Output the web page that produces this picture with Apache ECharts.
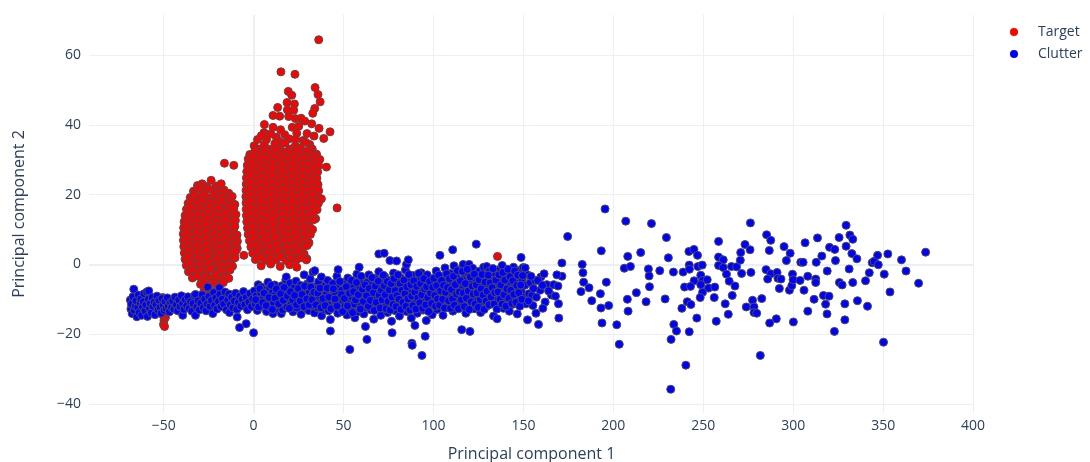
<!DOCTYPE html>
<html>
<head>
<meta charset="utf-8">
<script src="https://cdn.jsdelivr.net/npm/echarts@6/dist/echarts.min.js"></script>
<style>
  html, body { margin: 0; padding: 0; background: #fff; }
  #chart { width: 1090px; height: 462px; }
</style>
</head>
<body>
<div id="chart"></div>
<script>
// Axis ticks
const xTicks = [-50, 0, 50, 100, 150, 200, 250, 300, 350, 400];
const yTicks = [-40, -20, 0, 20, 40, 60];

// Target: left lobe (PC1, PC2)
const targetLeft = [
  [-31.2,22.6],[-28.6,23.1],[-26.0,22.3],[-23.6,24.1],[-21.0,22.5],[-18.0,23.1],
  [-33.4,21.0],[-30.6,21.8],[-27.9,20.9],[-25.1,21.6],[-22.3,21.2],[-19.8,20.7],[-16.4,21.3],[-13.8,20.4],
  [-35.2,19.2],[-32.8,19.9],[-30.1,19.4],[-27.4,20.0],[-24.8,19.1],[-22.0,19.8],[-19.3,19.3],[-16.7,19.6],[-14.1,18.9],[-11.9,19.5],
  [-36.4,17.5],[-33.9,18.2],[-31.2,17.6],[-28.6,18.3],[-25.9,17.4],[-23.3,18.0],[-20.6,17.7],[-18.0,18.1],[-15.3,17.3],[-12.7,17.9],[-10.4,17.2],
  [-37.3,15.8],[-34.7,16.4],[-32.2,15.6],[-29.5,16.3],[-26.9,15.9],[-24.2,16.5],[-21.6,15.7],[-18.9,16.2],[-16.3,15.5],[-13.6,16.4],[-11.0,15.9],
  [-38.1,14.0],[-35.6,14.7],[-33.0,13.9],[-30.4,14.5],[-27.7,14.1],[-25.1,14.8],[-22.5,13.8],[-19.8,14.4],[-17.2,14.0],[-14.5,14.6],[-11.9,13.9],[-9.8,14.3],
  [-38.6,12.2],[-36.2,12.9],[-33.6,12.1],[-31.0,12.7],[-28.3,12.3],[-25.7,13.0],[-23.0,12.0],[-20.4,12.6],[-17.8,12.2],[-15.1,12.8],[-12.5,12.1],[-10.1,12.6],
  [-38.9,10.5],[-36.6,11.1],[-34.0,10.3],[-31.5,10.9],[-28.8,10.4],[-26.2,11.2],[-23.6,10.2],[-20.9,10.8],[-18.3,10.4],[-15.6,11.0],[-13.0,10.3],[-10.4,10.9],
  [-39.1,8.7],[-36.9,9.3],[-34.4,8.5],[-31.8,9.1],[-29.2,8.6],[-26.6,9.4],[-24.0,8.4],[-21.3,9.0],[-18.7,8.6],[-16.1,9.2],[-13.4,8.5],[-10.8,9.1],[-9.2,8.4],
  [-39.0,6.9],[-36.7,7.5],[-34.1,6.7],[-31.6,7.3],[-29.0,6.8],[-26.4,7.6],[-23.8,6.6],[-21.1,7.2],[-18.5,6.8],[-15.9,7.4],[-13.2,6.7],[-10.6,7.3],[-9.0,6.6],
  [-38.8,5.1],[-36.4,5.7],[-33.9,4.9],[-31.3,5.5],[-28.7,5.0],[-26.1,5.8],[-23.5,4.8],[-20.8,5.4],[-18.2,5.0],[-15.6,5.6],[-12.9,4.9],[-10.3,5.5],[-9.1,4.6],
  [-38.5,3.3],[-36.1,3.9],[-33.6,3.1],[-31.0,3.7],[-28.4,3.2],[-25.8,4.0],[-23.2,3.0],[-20.5,3.6],[-17.9,3.2],[-15.3,3.8],[-12.6,3.1],[-10.0,3.7],
  [-38.1,1.5],[-35.7,2.1],[-33.2,1.3],[-30.6,1.9],[-28.0,1.4],[-25.4,2.2],[-22.8,1.2],[-20.1,1.8],[-17.5,1.4],[-14.9,2.0],[-12.2,1.3],[-10.3,1.9],
  [-37.4,-0.3],[-35.0,0.3],[-32.5,-0.5],[-29.9,0.1],[-27.3,-0.4],[-24.7,0.4],[-22.1,-0.6],[-19.4,0.0],[-16.8,-0.4],[-14.2,0.2],[-11.7,-0.5],
  [-36.2,-2.1],[-33.8,-1.5],[-31.3,-2.3],[-28.7,-1.7],[-26.1,-2.2],[-23.5,-1.4],[-20.9,-2.4],[-18.2,-1.8],[-15.6,-2.2],[-13.1,-1.6],
  [-34.0,-3.9],[-31.5,-3.3],[-29.0,-4.1],[-26.4,-3.5],[-23.8,-4.0],[-21.2,-3.2],[-18.6,-4.2],[-16.0,-3.6],[-13.8,-4.0],
  [-29.5,-5.7],[-27.0,-5.1],[-24.4,-5.9],[-21.8,-5.3],[-19.2,-5.8],[-16.8,-5.2],
  [-27.5,-7.5],[-24.9,-7.0],[-22.3,-7.8],[-19.7,-7.2],
  [-16.2,29.0],[-11.0,28.4],[-5.4,2.6]
];

// Target: right lobe
const targetRight = [
  [36.2,64.4],[15.2,55.2],[23.0,54.5],[34.2,50.7],[35.8,48.7],[37.0,46.6],[34.0,44.7],[32.9,43.3],
  [19.3,49.6],[21.2,48.5],[18.6,46.4],[22.7,46.0],[13.4,45.0],[18.8,44.3],[22.3,44.2],[10.8,42.7],
  [14.5,42.5],[19.5,42.4],[23.2,41.8],[26.4,41.9],[28.4,41.1],[32.3,40.3],[36.4,39.0],[42.5,38.0],
  [39.0,36.1],[6.0,40.1],[10.8,39.3],[5.8,37.8],[2.2,35.8],[7.2,35.8],[12.6,36.5],[17.3,37.2],
  [21.5,39.3],[25.1,39.6],[29.7,37.5],[31.2,34.4],[27.5,35.5],[9.6,37.4],[15.0,38.6],[19.8,36.0],
  [24.0,37.6],[4.3,36.9],[14.2,35.2],[23.3,35.9],[33.6,36.8],
  [0.3,34.0],[3.2,33.1],[6.0,34.4],[8.9,33.0],[11.8,34.6],[14.6,33.2],[17.5,34.8],[20.3,33.1],[23.2,34.0],[26.1,33.4],[29.0,35.0],[32.6,33.1],
  [-2.1,31.5],[0.8,32.6],[3.6,31.8],[6.5,32.4],[9.4,31.9],[12.2,32.7],[15.1,31.7],[18.0,32.3],[20.8,31.9],[23.7,32.5],[26.6,31.8],[29.4,32.4],[32.3,31.9],[35.0,31.6],
  [-3.0,30.2],[-0.2,30.8],[2.7,30.0],[5.5,30.6],[8.4,30.1],[11.3,30.9],[14.1,29.9],[17.0,30.5],[19.9,30.1],[22.7,30.7],[25.6,30.0],[28.5,30.6],[31.3,30.2],[34.2,30.8],[36.8,30.1],
  [-3.5,28.4],[-0.7,29.0],[2.2,28.2],[5.0,28.8],[7.9,28.3],[10.8,29.1],[13.6,28.1],[16.5,28.7],[19.4,28.3],[22.2,28.9],[25.1,28.2],[28.0,28.8],[30.8,28.4],[33.7,29.0],[36.2,28.3],[40.5,27.9],
  [-3.8,26.6],[-1.0,27.2],[1.9,26.4],[4.7,27.0],[7.6,26.5],[10.5,27.3],[13.3,26.3],[16.2,26.9],[19.1,26.5],[21.9,27.1],[24.8,26.4],[27.7,27.0],[30.5,26.6],[33.4,27.2],[35.6,26.5],
  [-4.0,24.8],[-1.2,25.4],[1.7,24.6],[4.5,25.2],[7.4,24.7],[10.3,25.5],[13.1,24.5],[16.0,25.1],[18.9,24.7],[21.7,25.3],[24.6,24.6],[27.5,25.2],[30.3,24.8],[33.2,25.4],[35.2,24.7],
  [-4.1,23.0],[-1.3,23.6],[1.6,22.8],[4.4,23.4],[7.3,22.9],[10.2,23.7],[13.0,22.7],[15.9,23.3],[18.8,22.9],[21.6,23.5],[24.5,22.8],[27.4,23.4],[30.2,23.0],[33.1,23.6],[35.8,22.9],
  [-4.2,21.2],[-1.4,21.8],[1.5,21.0],[4.3,21.6],[7.2,21.1],[10.1,21.9],[12.9,20.9],[15.8,21.5],[18.7,21.1],[21.5,21.7],[24.4,21.0],[27.3,21.6],[30.1,21.2],[33.0,21.8],[36.2,21.1],
  [-4.3,19.4],[-1.5,20.0],[1.4,19.2],[4.2,19.8],[7.1,19.3],[10.0,20.1],[12.8,19.1],[15.7,19.7],[18.6,19.3],[21.4,19.9],[24.3,19.2],[27.2,19.8],[30.0,19.4],[32.9,20.0],[35.9,19.3],[37.7,18.8],
  [-4.2,17.6],[-1.4,18.2],[1.5,17.4],[4.3,18.0],[7.2,17.5],[10.1,18.3],[12.9,17.3],[15.8,17.9],[18.7,17.5],[21.5,18.1],[24.4,17.4],[27.3,18.0],[30.1,17.6],[33.0,18.2],[36.0,17.5],
  [-4.1,15.8],[-1.3,16.4],[1.6,15.6],[4.4,16.2],[7.3,15.7],[10.2,16.5],[13.0,15.5],[15.9,16.1],[18.8,15.7],[21.6,16.3],[24.5,15.6],[27.4,16.2],[30.2,15.8],[33.1,16.4],[35.3,15.7],[46.4,16.2],
  [-4.0,14.0],[-1.2,14.6],[1.7,13.8],[4.5,14.4],[7.4,13.9],[10.3,14.7],[13.1,13.7],[16.0,14.3],[18.9,13.9],[21.7,14.5],[24.6,13.8],[27.5,14.4],[30.3,14.0],[33.2,14.6],[34.5,13.1],
  [-3.8,12.2],[-1.0,12.8],[1.9,12.0],[4.7,12.6],[7.6,12.1],[10.5,12.9],[13.3,11.9],[16.2,12.5],[19.1,12.1],[21.9,12.7],[24.8,12.0],[27.7,12.6],[30.5,12.2],[33.4,12.8],
  [-3.4,10.4],[-0.6,11.0],[2.3,10.2],[5.1,10.8],[8.0,10.3],[10.9,11.1],[13.7,10.1],[16.6,10.7],[19.5,10.3],[22.3,10.9],[25.2,10.2],[28.1,10.8],[31.2,10.7],[32.8,10.0],
  [-3.0,8.6],[-0.2,9.2],[2.7,8.4],[5.5,9.0],[8.4,8.5],[11.3,9.3],[14.1,8.3],[17.0,8.9],[19.9,8.5],[22.7,9.1],[25.6,8.4],[28.5,9.0],[31.6,8.6],
  [-2.3,6.8],[0.5,7.4],[3.4,6.6],[6.2,7.2],[9.1,6.7],[12.0,7.5],[14.8,6.5],[17.7,7.1],[20.6,6.7],[23.4,7.3],[26.3,6.6],[29.2,7.2],[30.8,6.2],
  [-1.5,5.0],[1.3,5.6],[4.2,4.8],[7.0,5.4],[9.9,4.9],[12.8,5.7],[15.6,4.7],[18.5,5.3],[21.4,4.9],[24.2,5.5],[27.1,4.8],[29.8,5.4],
  [-0.5,3.2],[2.3,3.8],[5.2,3.0],[8.0,3.6],[10.9,3.1],[13.8,3.9],[16.6,2.9],[19.5,3.5],[22.4,3.1],[25.2,3.7],[28.1,3.0],[29.6,1.6],
  [1.0,1.4],[3.8,2.0],[6.7,1.2],[9.5,1.8],[12.4,1.3],[15.3,2.1],[18.1,1.1],[21.0,1.7],[23.9,1.3],[26.7,1.9],[29.3,1.3],
  [4.2,-0.4],[9.5,0.1],[14.8,-0.6],[20.1,-0.1],[24.0,-0.8]
];

// Target: points near the clutter band
const targetMisc = [
  [-50.5,-9.5],[-50.0,-11.2],[-49.6,-13.0],[-51.0,-12.0],[-50.3,-14.6],[-49.0,-15.2],
  [-49.8,-16.0],[-50.1,-17.2],[-49.5,-17.8],[40.0,-5.0],[135.6,2.3]
];

// Clutter: dense band
const clutterBand = [
  [-68.5,-10.2],[-68.2,-12.8],[-67.9,-11.4],[-67.5,-14.1],[-67.1,-9.3],[-66.6,-7.1],[-66.3,-13.2],[-65.8,-11.9],
  [-65.4,-10.4],[-64.9,-15.0],[-64.5,-12.4],[-64.0,-8.8],[-63.6,-13.8],[-63.1,-11.0],[-62.7,-9.9],[-62.2,-14.6],
  [-61.8,-12.1],[-61.3,-10.7],[-60.9,-8.4],[-60.4,-13.3],[-59.9,-11.6],[-59.4,-7.9],[-59.0,-14.9],[-58.5,-10.0],
  [-58.3,-7.6],[-57.9,-12.7],[-57.4,-11.2],[-56.9,-13.9],[-56.4,-9.5],[-55.9,-12.0],[-55.3,-10.8],[-54.8,-14.4],
  [-54.2,-11.5],[-53.7,-9.1],[-53.1,-13.0],[-52.6,-10.3],[-52.0,-12.3],[-51.4,-14.0],[-50.9,-9.8],[-50.3,-11.7],
  [-49.7,-13.2],[-49.2,-10.6],[-48.6,-12.6],[-48.0,-9.6],[-47.4,-11.9],[-46.8,-13.6],[-46.2,-10.9],[-45.6,-12.4],
  [-45.0,-10.5],[-44.3,-12.8],[-43.7,-9.4],[-43.0,-11.6],[-42.2,-13.3],[-41.6,-10.2],[-40.9,-12.1],[-40.1,-9.0],
  [-39.4,-11.3],[-39.4,-14.6],[-38.7,-12.9],[-38.0,-10.1],[-37.2,-11.8],[-36.5,-9.3],[-35.8,-12.6],[-35.0,-10.7],
  [-34.3,-13.4],[-33.6,-11.2],[-32.9,-9.0],[-32.3,-14.6],[-32.3,-8.6],[-31.6,-12.2],[-30.8,-10.4],[-30.1,-13.0],
  [-29.4,-11.1],[-28.6,-8.7],[-27.9,-12.4],[-27.2,-10.0],[-26.4,-13.3],[-25.7,-11.4],[-25.5,-6.5],[-24.9,-9.2],
  [-24.2,-12.0],[-23.5,-10.3],[-22.7,-14.1],[-22.2,-8.1],[-21.7,-11.7],[-21.0,-9.6],[-20.3,-12.8],[-19.5,-10.6],
  [-19.0,-6.7],[-18.8,-8.6],[-18.1,-12.1],[-17.3,-9.9],[-16.6,-11.4],[-15.9,-7.9],[-15.1,-13.0],[-14.4,-10.2],
  [-13.7,-8.5],[-13.4,-13.8],[-12.9,-11.6],[-12.2,-9.4],[-11.5,-12.4],[-10.7,-10.5],[-10.0,-8.3],[-9.3,-12.9],
  [-9.1,-15.1],[-8.5,-10.9],[-7.8,-18.1],[-7.8,-9.1],[-7.1,-12.0],[-6.3,-10.0],[-5.6,-7.8],[-4.9,-11.5],
  [-4.1,-17.0],[-4.1,-9.5],[-3.4,-13.0],[-2.7,-10.8],[-2.0,-8.4],[-1.2,-12.1],[-0.5,-9.9],[0.0,-19.6],
  [0.4,-7.6],[0.9,-11.3],[1.5,-9.0],[2.1,-13.2],[2.6,-5.8],[3.2,-10.4],[3.8,-8.1],[4.3,-6.5],
  [4.9,-12.0],[5.5,-9.6],[6.0,-11.4],[6.6,-7.3],[7.2,-13.5],[7.7,-8.9],[8.0,-5.1],[8.3,-10.7],
  [8.9,-6.8],[9.4,-12.3],[10.0,-9.2],[10.6,-7.9],[10.8,-14.1],[11.1,-11.0],[11.7,-5.9],[12.3,-8.5],
  [12.8,-12.8],[13.4,-10.1],[14.0,-7.2],[14.5,-11.8],[15.1,-9.5],[15.4,-14.1],[15.7,-6.1],[16.2,-13.0],
  [16.8,-8.0],[17.4,-10.8],[17.9,-4.4],[18.2,-3.6],[18.5,-12.2],[19.1,-7.0],[19.6,-9.9],[20.2,-5.4],
  [20.8,-11.5],[21.3,-8.6],[21.9,-13.6],[22.5,-6.7],[23.0,-10.3],[23.6,-4.8],[24.2,-12.5],[24.7,-8.1],
  [25.3,-9.7],[25.9,-6.0],[26.4,-14.3],[27.0,-11.2],[27.6,-7.5],[28.1,-3.0],[28.7,-9.1],[29.3,-12.7],
  [29.8,-5.6],[30.4,-10.6],[30.6,-13.2],[31.0,-7.9],[31.5,-4.2],[32.1,-11.9],[32.7,-8.8],[33.0,-2.2],
  [33.2,-6.4],[33.8,-13.9],[34.0,-1.8],[34.4,-10.0],[34.9,-7.1],[35.5,-12.4],[36.1,-5.0],[36.6,-9.4],
  [37.2,-11.0],[37.7,-3.6],[37.8,-14.7],[38.3,-7.7],[38.9,-12.9],[39.5,-6.2],[40.0,-10.2],[40.6,-8.4],
  [41.2,-4.6],[41.7,-13.3],[42.3,-11.5],[42.7,-15.8],[42.7,-19.1],[42.9,-7.0],[43.4,-9.6],[44.0,-5.5],
  [44.6,-12.1],[45.1,-8.0],[45.7,-10.9],[46.3,-3.4],[46.8,-14.0],[47.0,-1.5],[47.4,-6.6],[48.0,-9.3],
  [48.5,-12.6],[49.1,-7.4],[49.7,-10.4],
  [50.2,-5.2],[50.8,-12.0],[51.3,-8.7],[51.9,-14.5],[52.4,-3.9],[53.0,-10.5],[53.5,-24.4],[53.6,-7.1],
  [54.1,-12.9],[54.7,-9.4],[55.2,-5.9],[55.8,-11.4],[56.3,-15.3],[56.9,-8.0],[57.4,-2.8],[58.0,-13.6],
  [58.5,-10.1],[58.7,-0.8],[59.1,-6.5],[59.6,-11.9],[60.2,-4.5],[60.7,-9.0],[61.3,-14.2],[61.8,-7.4],
  [62.2,-17.8],[62.4,-12.4],[63.0,-21.5],[63.0,-5.2],[63.5,-10.6],[64.1,-3.0],[64.6,-8.5],[65.2,-13.0],
  [65.7,-6.0],[66.3,-11.1],[66.8,-15.7],[67.4,-4.0],[67.9,-9.6],[68.5,-12.6],[69.0,-7.2],[69.6,3.0],
  [69.6,-2.1],[70.1,-10.3],[70.7,-14.6],[71.2,-5.5],[71.8,-8.3],[72.3,-12.0],[72.6,3.2],[72.9,-3.5],
  [73.4,-10.9],[74.0,-6.8],[74.5,-13.8],[75.1,-9.1],[75.6,-4.6],[75.8,1.1],[76.2,-11.6],[76.7,-16.3],
  [77.0,-19.6],[77.3,-7.6],[77.8,-2.5],[78.4,-13.2],[78.9,-9.9],[79.5,1.0],[79.5,-5.8],[80.0,-11.0],
  [80.6,-7.0],[81.1,-14.8],[81.7,-3.8],[82.2,-8.9],[82.8,-12.3],[83.3,-6.2],[83.9,-10.4],[84.4,-1.6],
  [85.0,0.0],[85.0,-13.5],[85.5,-8.1],[86.0,1.3],[86.1,-4.9],[86.6,-11.5],[87.2,-7.3],[87.7,-15.4],
  [88.0,-22.6],[88.2,-23.2],[88.3,-9.5],[88.8,-3.2],[89.4,-12.7],[89.7,-17.5],[89.9,-6.6],[90.5,-10.2],
  [91.0,-14.0],[91.6,-4.3],[92.1,-8.6],[92.7,-11.8],[93.2,-2.4],[93.6,-26.1],[93.8,-7.9],[94.3,-13.1],
  [94.9,-5.7],[95.4,-20.6],[95.4,-10.0],[96.0,-16.1],[96.5,-3.0],[97.1,-8.2],[97.6,-12.1],[98.2,-6.0],
  [98.7,-9.7],[99.3,-14.4],[99.8,-4.4],
  [100.4,-10.8],[100.9,-7.1],[101.5,-1.9],[102.0,-12.9],[102.6,-5.3],[103.1,-9.2],[103.6,2.6],[103.7,-3.4],
  [104.2,-11.4],[104.8,-6.8],[105.3,-14.6],[105.9,-8.5],[106.4,-1.0],[107.0,-10.1],[107.5,-4.7],[108.1,-12.3],
  [108.6,-7.6],[109.2,-2.6],[109.7,-9.5],[110.3,-5.8],[110.7,4.2],[110.8,-13.4],[111.4,-0.4],[111.9,-8.0],
  [112.5,-11.0],[113.0,-3.9],[113.6,-6.4],[114.1,-9.9],[114.7,-1.5],[115.2,-12.0],[115.7,-18.7],[115.8,-7.2],
  [116.3,-4.4],[116.5,0.0],[116.9,-10.5],[117.4,-2.3],[118.0,-14.0],[118.5,-6.0],[119.1,-8.8],[119.6,-3.1],
  [119.8,0.0],[120.2,-11.6],[120.3,-19.2],[120.7,-5.1],[121.3,-9.0],[121.8,-1.1],[122.4,-7.4],[122.9,-12.7],
  [123.5,-4.0],[123.8,5.8],[124.0,-10.0],[124.6,-6.6],[125.1,-2.0],[125.7,-8.4],[126.2,-13.8],[126.8,-5.5],
  [127.3,-10.9],[127.9,-0.8],[128.4,-7.6],[129.0,-3.6],[129.5,-12.0],[129.6,-0.6],[130.1,-9.1],[130.6,-5.9],
  [131.2,-1.9],[131.7,-8.0],[132.3,-10.6],[132.8,-4.2],[133.4,-14.8],[133.9,-6.9],[134.5,-2.8],[135.0,-9.6],
  [135.4,-15.6],[135.6,-5.0],[136.1,-11.7],[136.7,-7.4],[137.2,-1.3],[137.8,-3.9],[138.2,-0.3],[138.3,-8.5],
  [138.9,-12.6],[139.4,-6.0],[140.0,-2.7],[140.5,-10.0],[141.1,-4.8],[141.6,-7.7],[142.2,-13.4],[142.7,-5.6],
  [143.3,-9.2],[143.8,-2.1],[144.4,-11.4],[144.5,-0.8],[144.9,-6.6],[145.5,-3.6],[146.0,-8.9],[146.6,-14.2],
  [147.1,-5.4],[147.7,-10.6],[148.2,-1.7],[148.7,2.0],[148.8,-7.8],[149.3,-4.3],[149.9,-0.9],[149.9,-9.5],
  [150.8,-6.0],[151.5,-11.3],[152.3,-15.9],[152.3,-3.0],[153.0,-8.4],[153.8,-5.2],[154.7,-8.9],[155.3,-11.8],
  [156.5,-4.6],[158.4,-17.2],[159.3,-7.4],[159.7,-3.6],[162.1,-10.8],[163.0,-5.8],[165.6,-8.8],[166.8,-5.8],
  [169.2,-6.2],[169.5,-11.3],[169.7,-15.4],[171.4,0.4],[171.4,-3.4],[174.6,8.0]
];

// Clutter: additional points in the core of the band
const clutterCore = [
  [1.2,-10.1],[2.8,-12.2],[3.5,-7.0],[5.1,-10.9],[5.8,-8.2],[7.0,-11.8],[8.6,-9.5],[9.8,-6.0],
  [10.4,-12.9],[11.9,-9.7],[12.6,-7.0],[13.9,-11.3],[15.0,-8.4],[16.5,-10.3],[17.0,-6.6],[18.8,-9.1],
  [19.9,-12.6],[20.5,-7.8],[21.7,-10.2],[22.8,-8.9],[23.9,-11.6],[24.9,-6.9],[26.0,-10.5],[26.9,-8.6],
  [28.0,-12.1],[28.4,-6.2],[29.6,-9.9],[30.9,-11.6],[31.8,-6.5],[32.4,-10.1],[33.6,-8.0],[34.6,-11.6],
  [35.7,-8.2],[36.9,-6.8],[37.5,-12.4],[38.6,-9.8],[39.8,-11.8],[40.9,-6.8],[41.8,-9.4],[43.0,-12.7],
  [44.3,-7.0],[45.3,-9.9],[46.4,-11.9],[47.9,-4.9],[48.8,-8.6],[49.5,-13.5],
  [50.5,-9.8],[51.6,-6.4],[52.2,-11.9],[53.3,-8.3],[54.4,-4.6],[55.0,-13.8],[55.5,-7.8],[56.6,-10.2],
  [57.2,-5.2],[58.2,-8.7],[59.3,-12.8],[59.8,-3.4],[60.5,-7.1],[61.0,-10.6],[62.0,-5.9],[62.8,-9.0],
  [63.8,-12.0],[64.3,-6.9],[64.9,-10.3],[65.9,-3.8],[66.6,-8.1],[67.1,-13.2],[67.6,-6.2],[68.2,-10.9],
  [69.3,-4.8],[69.8,-8.8],[70.4,-12.5],[71.0,-7.4],[71.5,-10.1],[72.1,-3.1],[72.6,-6.1],[73.2,-8.7],
  [73.7,-12.7],[74.3,-4.9],[74.8,-10.6],[75.4,-7.3],[75.9,-13.1],[76.5,-5.5],[77.0,-9.4],[77.6,-11.5],
  [78.1,-4.1],[78.7,-7.5],[79.2,-12.1],[79.8,-8.9],[80.3,-3.0],[80.9,-10.0],[81.4,-5.5],[81.9,-12.9],
  [82.5,-7.4],[83.0,-10.9],[83.6,-4.5],[84.1,-8.4],[84.7,-12.0],[85.2,-6.4],[85.8,-9.9],[86.3,-2.9],
  [86.9,-13.1],[87.4,-5.8],[87.9,-9.1],[88.5,-11.8],[89.1,-4.7],[89.6,-8.0],[90.2,-12.8],[90.7,-6.3],
  [91.3,-9.6],[91.8,-2.6],[92.4,-11.0],[92.9,-5.5],[93.5,-8.7],[94.0,-12.6],[94.6,-4.1],[95.1,-7.0],
  [95.7,-11.6],[96.2,-6.4],[96.8,-9.5],[97.3,-13.5],[97.9,-4.9],[98.4,-8.2],[99.0,-11.2],[99.6,-6.6],
  [100.2,-4.0],[100.7,-8.9],[101.2,-12.0],[101.8,-6.1],[102.3,-9.9],[102.9,-3.1],[103.4,-11.7],[104.0,-7.6],
  [104.5,-4.6],[105.1,-10.0],[105.6,-6.0],[106.2,-12.5],[106.7,-8.0],[107.3,-2.7],[107.8,-6.6],[108.4,-10.4],
  [108.9,-4.1],[109.5,-12.6],[110.0,-7.2],[110.6,-9.9],[111.1,-3.4],[111.7,-11.7],[112.2,-5.8],[112.8,-8.5],
  [113.3,-1.8],[113.9,-12.7],[114.4,-7.9],[115.0,-4.7],[115.5,-10.1],[116.1,-2.0],[116.6,-8.2],[117.2,-12.1],
  [117.7,-5.5],[118.3,-9.7],[118.8,-1.4],[119.4,-7.6],[119.9,-12.9],[120.5,-3.6],[121.0,-10.7],[121.6,-6.2],
  [122.1,-8.5],[122.7,-2.8],[123.2,-11.3],[123.8,-5.9],[124.3,-8.2],[124.9,-12.3],[125.4,-4.4],[126.0,-10.1],
  [126.5,-7.0],[127.1,-2.9],[127.6,-8.8],[128.2,-12.9],[128.7,-5.1],[129.3,-10.5],[129.8,-7.7],[130.4,-3.1],
  [130.9,-11.6],[131.5,-5.3],[132.0,-9.3],[132.6,-6.7],[133.1,-1.2],[133.7,-11.4],[134.2,-8.1],[134.8,-4.5],
  [135.3,-12.8],[135.9,-7.9],[136.4,-3.0],[137.0,-10.0],[137.5,-5.9],[138.1,-11.4],[138.6,-2.3],[139.2,-8.7],
  [139.7,-4.5],[140.3,-12.0],[140.8,-7.0],[141.4,-1.4],[141.9,-9.7],[142.5,-3.5],[143.0,-7.4],[143.6,-11.2],
  [144.1,-4.7],[144.7,-8.6],[145.2,-1.9],[145.8,-10.9],[146.3,-6.0],[146.9,-3.1],[147.4,-8.1],[148.0,-12.0],
  [148.5,-5.9],[149.1,-10.0],[149.6,-3.2],
  [151.0,-1.0],[152.8,-10.5],[154.2,-3.4],[155.6,-6.9],[157.2,-9.4],[158.0,-4.6],[160.6,-6.0],[161.5,-2.7],
  [164.0,-7.6],[167.8,-9.1],[168.6,-3.0],[160.8,-12.6],[157.0,-14.0]
];

// Clutter: sparse tail at large PC1
const clutterTail = [
  [182.7,0.0],[183.1,-2.4],[183.5,-5.1],[182.0,-7.8],[186.5,-6.7],[188.0,-10.4],[193.3,3.9],[195.4,15.9],
  [196.1,-5.1],[192.8,-8.4],[193.1,-12.5],[197.4,-11.8],[193.7,-16.8],[201.9,-17.3],[203.3,-22.9],[206.9,12.4],
  [208.0,2.3],[206.1,-1.1],[209.5,-0.6],[207.8,-10.0],[208.2,-13.4],[212.8,-8.1],[215.2,3.4],[221.2,11.7],
  [219.5,-1.3],[219.9,-3.3],[220.1,-6.4],[218.2,-10.7],[225.8,-1.8],[229.5,7.7],[230.6,1.9],[233.4,-2.2],
  [228.8,-9.9],[233.6,-17.2],[235.1,-19.1],[232.1,-21.5],[231.9,-35.8],[240.3,-28.9],[242.2,-19.3],[238.1,-12.6],
  [241.1,-10.7],[243.1,-11.5],[246.4,-15.4],[238.8,-2.2],[239.6,-6.5],[242.0,3.7],[244.8,4.3],[246.8,2.6],
  [242.2,-0.2],[242.3,-1.4],[244.9,-4.7],[242.9,-6.3],[247.0,-0.6],[249.4,-0.2],[248.6,-3.1],[249.6,-4.6],
  [252.2,-4.4],[248.6,-5.8],[252.9,-6.8],[249.6,-8.0],[248.3,-9.5],[256.4,-6.5],[256.1,-9.5],[258.5,6.6],
  [258.5,2.1],[261.1,1.3],[258.5,-0.3],[261.1,-0.9],[262.9,-2.8],[264.4,-4.8],[265.7,-0.6],[268.5,-0.7],
  [267.6,-6.2],[266.1,-8.9],[262.2,-11.3],[263.9,-14.3],[257.2,-16.3],[270.6,1.2],[270.8,3.4],[273.2,5.7],
  [276.2,11.9],[276.0,4.2],[271.3,-2.6],[276.5,-2.3],[277.4,-10.3],[273.9,-12.2],[278.2,-12.2],[278.2,-13.8],
  [279.7,-14.0],[282.5,-9.8],[281.7,-26.1],[285.2,8.5],[287.5,6.9],[286.7,4.0],[284.9,-1.5],[287.5,-2.7],
  [285.8,-4.2],[291.0,-2.3],[291.5,-4.0],[293.2,-4.2],[292.3,-6.9],[294.9,5.1],[298.3,3.2],[296.2,1.1],
  [297.9,-7.4],[299.2,-6.1],[299.6,-2.8],[299.9,-4.4],[290.6,-15.6],[286.9,-16.8],[300.1,-16.5],[304.2,0.6],
  [306.6,6.2],[313.5,7.6],[305.5,0.6],[312.8,0.6],[315.9,2.4],[320.2,4.9],[323.1,4.3],[325.5,7.7],
  [329.4,11.2],[331.5,8.4],[333.1,7.2],[329.4,5.2],[332.6,3.1],[335.4,1.6],[323.5,1.1],[318.9,-1.9],
  [308.1,-3.4],[312.5,-4.2],[312.5,-5.2],[303.8,-4.6],[306.0,-7.4],[311.6,-10.0],[316.8,-8.9],[319.9,-9.1],
  [318.0,-11.4],[308.1,-13.4],[318.8,-14.2],[322.9,-19.2],[328.7,-15.9],[328.7,-11.3],[335.7,-10.4],[341.3,-12.0],
  [325.7,-5.2],[327.2,-5.9],[331.1,-1.3],[333.1,-5.2],[340.2,-4.7],[342.3,-2.4],[343.9,0.5],[345.0,0.9],
  [346.9,2.6],[347.3,-0.1],[352.6,3.0],[350.6,-2.8],[353.8,-7.9],[350.2,-22.3],[360.2,1.3],[362.7,-1.9],
  [369.7,-5.4],[373.6,3.5]
];

const FONT = '"Open Sans", "Noto Sans", sans-serif';
const TEXT = '#2a3f5f';
const GRID = '#ebf0f8';
const minus = v => String(v).replace('-', '\u2212');

const chart = echarts.init(document.getElementById('chart'), null, { renderer: 'canvas' });
chart.setOption({
  animation: false,
  backgroundColor: '#ffffff',
  textStyle: { fontFamily: FONT },
  grid: { left: 89, right: 116, top: 15, bottom: 49, containLabel: false, outerBoundsMode: 'none' },
  legend: {
    orient: 'vertical',
    left: 1005,
    top: 20,
    itemWidth: 38,
    itemHeight: 8,
    itemGap: 8,
    data: ['Target', 'Clutter'],
    icon: 'circle',
    itemStyle: { borderWidth: 0 },
    textStyle: { fontFamily: FONT, fontSize: 14, color: TEXT }
  },
  xAxis: {
    type: 'value',
    min: -91.5,
    max: 400.5,
    name: 'Principal component 1',
    nameLocation: 'middle',
    nameGap: 33,
    nameTextStyle: { fontFamily: FONT, fontSize: 16, color: TEXT },
    axisLine: { show: false },
    axisTick: { show: false, customValues: xTicks },
    axisLabel: { customValues: xTicks, formatter: minus, fontFamily: FONT, fontSize: 14, color: TEXT, margin: 6 },
    splitLine: { show: true, lineStyle: { color: GRID, width: 1 } }
  },
  yAxis: {
    type: 'value',
    min: -42.6,
    max: 71.5,
    name: 'Principal component 2',
    nameLocation: 'middle',
    nameGap: 62,
    nameTextStyle: { fontFamily: FONT, fontSize: 16, color: TEXT },
    axisLine: { show: false },
    axisTick: { show: false, customValues: yTicks },
    axisLabel: { customValues: yTicks, formatter: minus, fontFamily: FONT, fontSize: 14, color: TEXT, margin: 8 },
    splitLine: { show: true, lineStyle: { color: GRID, width: 1 } }
  },
  series: [
    {
      // zero lines, kept beneath the markers
      type: 'scatter',
      name: 'zero',
      data: [],
      silent: true,
      z: 1,
      markLine: {
        silent: true,
        z: 1,
        symbol: 'none',
        label: { show: false },
        lineStyle: { color: GRID, width: 2, type: 'solid' },
        data: [{ xAxis: 0 }, { yAxis: 0 }]
      }
    },
    {
      name: 'Target',
      type: 'scatter',
      z: 2,
      symbol: 'circle',
      symbolSize: 8,
      itemStyle: { color: '#ff0000', borderColor: '#4d4d4d', borderWidth: 1, opacity: 1 },
      data: targetLeft.concat(targetRight, targetMisc)
    },
    {
      name: 'Clutter',
      type: 'scatter',
      z: 3,
      symbol: 'circle',
      symbolSize: 8,
      itemStyle: { color: '#0000ff', borderColor: '#4d4d4d', borderWidth: 1, opacity: 1 },
      data: clutterBand.concat(clutterCore, clutterTail)
    }
  ]
});
</script>
</body>
</html>
